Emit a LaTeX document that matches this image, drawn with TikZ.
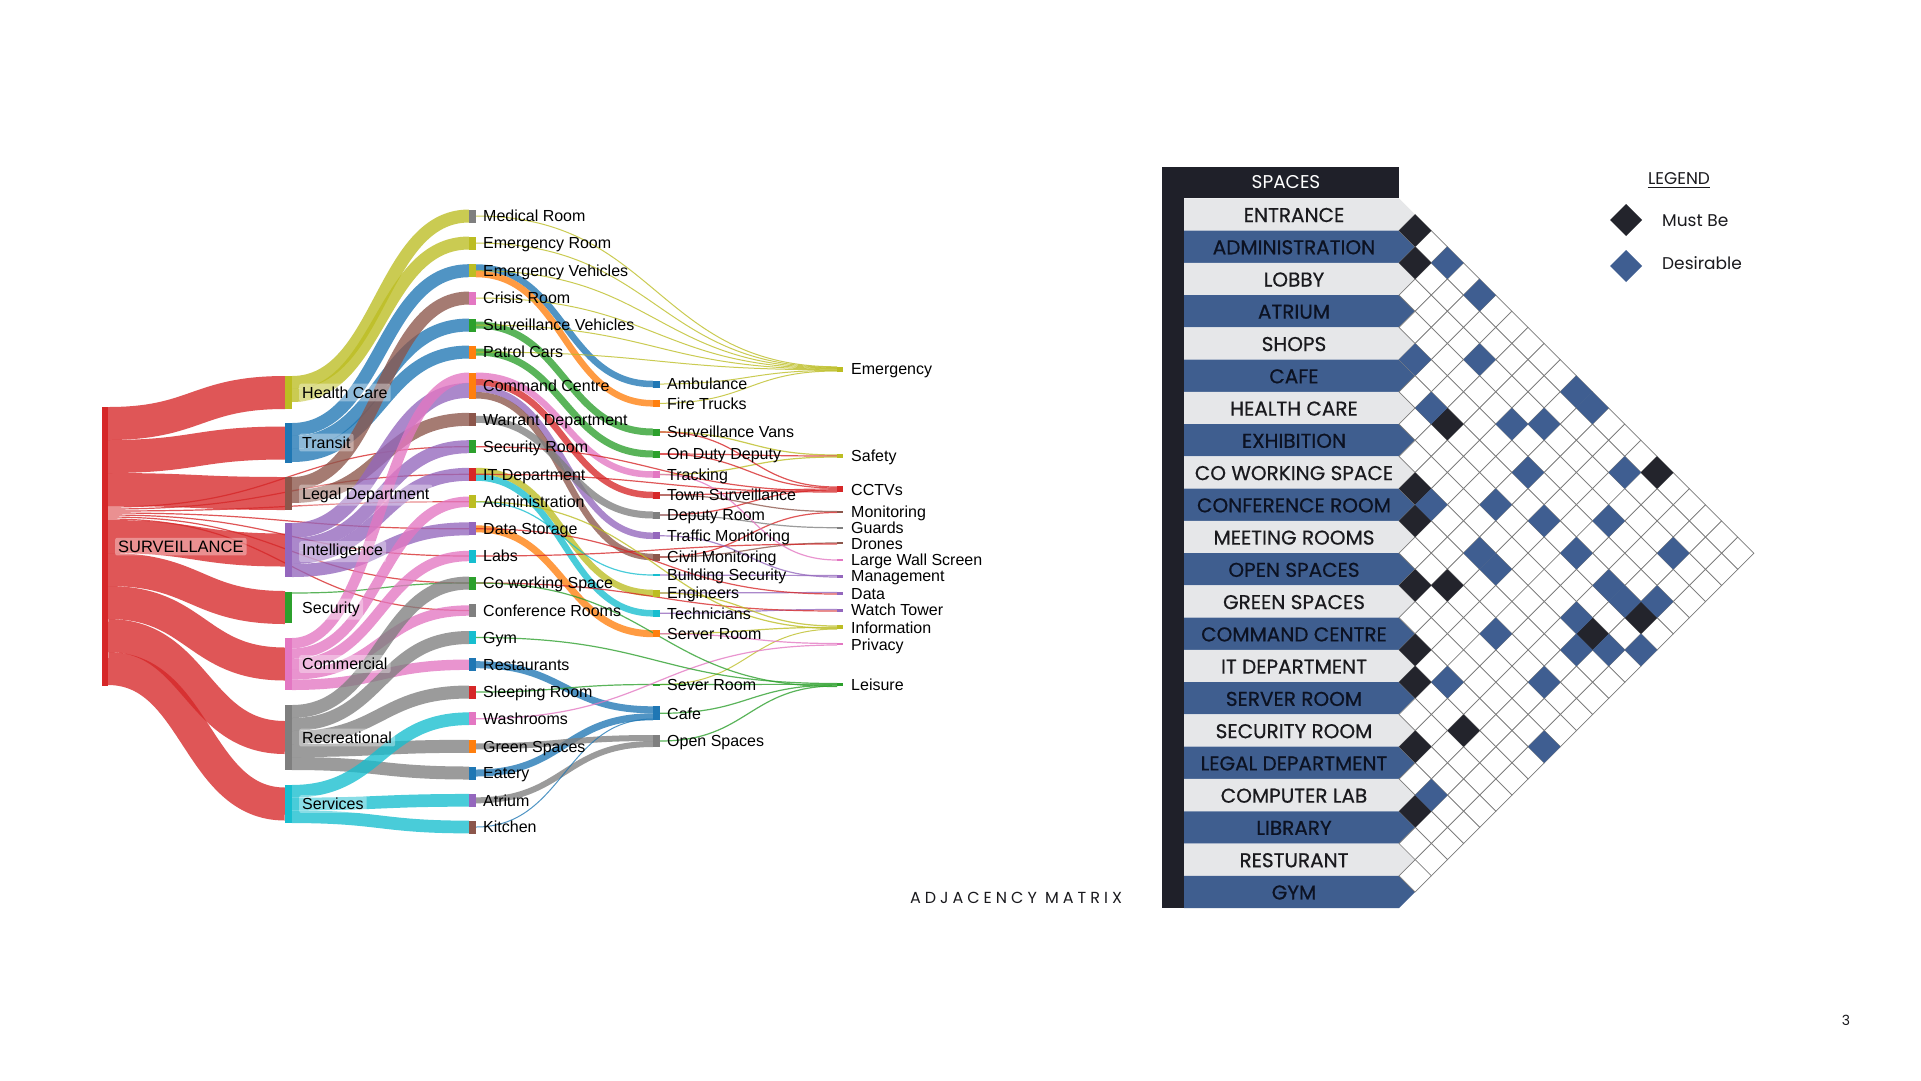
\documentclass[tikz,border=0pt]{standalone}
\usepackage{fontspec}
\setmainfont{Liberation Sans}
\newfontfamily\geofont{Poppins}
\usetikzlibrary{calc}
\definecolor{cBlue}{HTML}{1F77B4}
\definecolor{cOrange}{HTML}{FF7F0E}
\definecolor{cGreen}{HTML}{2CA02C}
\definecolor{cRed}{HTML}{D62728}
\definecolor{cPurple}{HTML}{9467BD}
\definecolor{cBrown}{HTML}{8C564B}
\definecolor{cPink}{HTML}{E377C2}
\definecolor{cGrey}{HTML}{7F7F7F}
\definecolor{cOlive}{HTML}{BCBD22}
\definecolor{cCyan}{HTML}{17BECF}
\definecolor{mxDark}{HTML}{1F2029}
\definecolor{mxBlack}{HTML}{23242C}
\definecolor{mxBlue}{HTML}{3F5E8F}
\definecolor{mxCell}{HTML}{3F5E91}
\definecolor{mxLight}{HTML}{E6E7E9}
\definecolor{mxNavy}{HTML}{0C1222}
\definecolor{mxText}{HTML}{1A1A1E}
\definecolor{mxLine}{HTML}{7A7A7A}
\pgfdeclarelayer{bg}
\pgfdeclarelayer{links}
\pgfsetlayers{bg,links,main}

\newcommand\flow[6]{\draw[#1,line width=#2pt,draw opacity=0.78] let \p1=(#3.east),\p2=(#5.west) in (\x1,-#4pt) .. controls ({0.5*\x1+0.5*\x2},-#4pt) and ({0.5*\x1+0.5*\x2},-#6pt) .. (\x2,-#6pt);}
\newcommand\cone[4]{\node[barnode,fill=#3,minimum height=#4pt] (#1) at (288.5,#2) {};}
\newcommand\ctwo[4]{\node[barnode,fill=#3,minimum height=13pt] (#1) at (472.5,#2) {};
  \node[lbl] (#1-l) at (483,#2+5.7) {#4};}
\newcommand\cthree[5]{\node[barnode,fill=#3,minimum height=#4pt] (#1) at (656.5,#2) {};
  \node[lbl] (#1-l) at (667,#2+5.7) {#5};}
\newcommand\cfour[5]{\node[barnode,fill=#3,minimum height=#4pt,minimum width=6pt] (#1) at (840,#2) {};
  \node[lbl] (#1-l) at (851,#2+5.7) {#5};}
\newcommand\mcell[3]{\fill[#3] ({1415.13+(#2-#1-1)*16.13-16.13},{214.43+(#1+#2)*16.13}) -- ++(16.13,-16.13) -- ++(16.13,16.13) -- ++(-16.13,16.13) -- cycle;}
\newcommand\mxrow[4]{% index, label, fill, text colour
  \fill[#3] (1184,{198.3+#1*32.26}) -- (1399,{198.3+#1*32.26}) -- (1415.13,{214.43+#1*32.26}) -- (1399,{230.56+#1*32.26}) -- (1184,{230.56+#1*32.26}) -- cycle;
  \node[rowtext] (row#1) at (1294,{215+#1*32.26}) {\color{#4}#2};}

\begin{document}
\begin{tikzpicture}[x=1pt,y=-1pt,
  barnode/.style={rectangle,inner sep=0pt,outer sep=0pt,minimum width=7pt,draw=none},
  lbl/.style={anchor=base west,inner sep=0pt,font=\fontsize{16}{19}\selectfont,text=black},
  lblone/.style={anchor=base west,inner sep=3pt,font=\fontsize{16}{19}\selectfont,text=black,
     fill=white,fill opacity=0.35,text opacity=1,rounded corners=2pt},
  rowtext/.style={font=\geofont\fontsize{20}{23}\selectfont\addfontfeature{FakeBold=0.6},inner sep=0pt},
  legtext/.style={anchor=west,font=\geofont\fontsize{17}{20}\selectfont,text=mxText,inner sep=0pt}]
\useasboundingbox (0,0) rectangle (1921,1080);
\begin{pgfonlayer}{bg}
\fill[white] (0,0) rectangle (1921,1080);
\end{pgfonlayer}

% ---------------- Sankey nodes ----------------
\node[barnode,fill=cRed,minimum width=6pt,minimum height=279pt] (S) at (105,546.5) {};
\node[lblone,font=\fontsize{16.5}{19}\selectfont] (S-l) at (115,552.3) {SURVEILLANCE};

\cone{HC}{392.5}{cOlive}{33}
\cone{TR}{443}{cBlue}{40}
\cone{LD}{493.5}{cBrown}{33}
\cone{IN}{550}{cPurple}{54}
\cone{SE}{607.5}{cGreen}{31}
\cone{CO}{664}{cPink}{52}
\cone{RE}{737.5}{cGrey}{65}
\cone{SV}{804}{cCyan}{38}
\node[lblone] (HC-l) at (299,398.3) {Health Care};
\node[lblone] (TR-l) at (299,448.3) {Transit};
\node[lblone] (LD-l) at (299,499.3) {Legal Department};
\node[lblone] (IN-l) at (299,555.8) {Intelligence};
\node[lblone] (SE-l) at (299,613.3) {Security};
\node[lblone] (CO-l) at (299,669.8) {Commercial};
\node[lblone] (RE-l) at (299,743.3) {Recreational};
\node[lblone] (SV-l) at (299,809.8) {Services};

\ctwo{MR}{216}{cGrey}{Medical Room}
\ctwo{ER}{243}{cOlive}{Emergency Room}
\ctwo{EV}{270.7}{cOlive}{Emergency Vehicles}
\ctwo{CR}{298}{cPink}{Crisis Room}
\ctwo{SVH}{325}{cGreen}{Surveillance Vehicles}
\ctwo{PC}{352}{cOrange}{Patrol Cars}
\node[barnode,fill=cOrange,minimum height=26pt] (CC) at (472.5,385.5) {};
\node[lbl] (CC-l) at (483,391.2) {Command Centre};
\ctwo{WD}{419.3}{cBrown}{Warrant Department}
\ctwo{SR}{446.7}{cGreen}{Security Room}
\ctwo{IT}{474.3}{cRed}{IT Department}
\ctwo{AD}{501.7}{cOlive}{Administration}
\ctwo{DS}{528.8}{cPurple}{Data Storage}
\ctwo{LB}{556}{cCyan}{Labs}
\ctwo{CW}{583}{cGreen}{Co working Space}
\ctwo{CF}{610.5}{cGrey}{Conference Rooms}
\ctwo{GY}{637.5}{cCyan}{Gym}
\ctwo{RS}{664.7}{cBlue}{Restaurants}
\ctwo{SL}{692}{cRed}{Sleeping Room}
\ctwo{WR}{718.7}{cPink}{Washrooms}
\ctwo{GS}{746.3}{cOrange}{Green Spaces}
\ctwo{EA}{773}{cBlue}{Eatery}
\ctwo{AT}{800.3}{cPurple}{Atrium}
\ctwo{KI}{827}{cBrown}{Kitchen}

\cthree{AMB}{384}{cBlue}{7}{Ambulance}
\cthree{FT}{403.3}{cOrange}{7}{Fire Trucks}
\cthree{SVAN}{432}{cGreen}{7}{Surveillance Vans}
\cthree{ODD}{454}{cGreen}{7}{On Duty Deputy}
\cthree{TRK}{474.5}{cPink}{7}{Tracking}
\cthree{TS}{495}{cRed}{7}{Town Surveillance}
\cthree{DR}{515}{cGrey}{7}{Deputy Room}
\cthree{TM}{535.8}{cPurple}{7}{Traffic Monitoring}
\cthree{CM}{557}{cBrown}{7}{Civil Monitoring}
\cthree{BS}{575}{cCyan}{2}{Building Security}
\cthree{ENG}{593}{cOlive}{7}{Engineers}
\cthree{TEC}{613.3}{cCyan}{7}{Technicians}
\cthree{SRV}{633.7}{cOrange}{7}{Server Room}
\cthree{SEV}{684.5}{cGreen}{2}{Sever Room}
\cthree{CAFE}{713.3}{cBlue}{14}{Cafe}
\cthree{OS}{741}{cGrey}{12}{Open Spaces}

\cfour{EMG}{369}{cOlive}{5}{Emergency}
\cfour{SAF}{456}{cOlive}{4}{Safety}
\cfour{CCTV}{489.3}{cRed}{6}{CCTVs}
\cfour{MON}{512}{cBrown}{2}{Monitoring}
\cfour{GRD}{527.7}{cGrey}{2}{Guards}
\cfour{DRN}{543.3}{cBrown}{2}{Drones}
\cfour{LWS}{560}{cPink}{2}{Large Wall Screen}
\cfour{MGT}{576}{cPurple}{3}{Management}
\cfour{DAT}{593.3}{cPurple}{3}{Data}
\cfour{WT}{610}{cPurple}{3}{Watch Tower}
\cfour{INF}{627.3}{cOlive}{4}{Information}
\cfour{PRV}{644.3}{cPink}{2}{Privacy}
\cfour{LEI}{684.8}{cGreen}{3}{Leisure}

% ---------------- Sankey links ----------------
\begin{pgfonlayer}{links}
\flow{cRed}{33}{S}{423.5}{HC}{392.5}
\flow{cRed}{33}{S}{456.5}{TR}{443}
\flow{cRed}{33}{S}{489.5}{LD}{493.5}
\flow{cRed}{33}{S}{536.5}{IN}{550}
\flow{cRed}{33}{S}{569.5}{SE}{607.5}
\flow{cRed}{33}{S}{602.5}{CO}{664}
\flow{cRed}{33}{S}{635.5}{RE}{737.5}
\flow{cRed}{33}{S}{668.5}{SV}{804}
\flow{cRed}{1.2}{S}{507}{SR}{446.7}
\flow{cRed}{1.2}{S}{509}{IT}{474.3}
\flow{cRed}{1.2}{S}{511}{AD}{501.7}
\flow{cRed}{1.2}{S}{513}{DS}{528.8}
\flow{cRed}{1.2}{S}{515}{LB}{556}
\flow{cRed}{1.2}{S}{517}{CW}{583}
\flow{cRed}{1.2}{S}{519}{CF}{610.5}

\flow{cOlive}{13}{HC}{382.5}{MR}{216}
\flow{cOlive}{13}{HC}{395.5}{ER}{243}
\flow{cBlue}{13}{TR}{429.5}{EV}{270.7}
\flow{cBlue}{13}{TR}{442.5}{SVH}{325}
\flow{cBlue}{13}{TR}{455.5}{PC}{352}
\flow{cBrown}{13}{LD}{483.5}{CR}{298}
\flow{cBrown}{13}{LD}{496.5}{WD}{419.3}
\flow{cPurple}{15}{IN}{530.5}{CC}{390.4}
\flow{cPurple}{13}{IN}{544.5}{SR}{446.7}
\flow{cPurple}{13}{IN}{557.5}{IT}{474.3}
\flow{cPurple}{13}{IN}{570.5}{DS}{528.8}
\flow{cGreen}{1.2}{SE}{593}{CW}{583}
\flow{cPink}{10.4}{CO}{643.2}{CC}{377.7}
\flow{cPink}{10.4}{CO}{653.6}{AD}{501.7}
\flow{cPink}{10.4}{CO}{664}{LB}{556}
\flow{cPink}{10.4}{CO}{674.4}{CF}{610.5}
\flow{cPink}{10.4}{CO}{684.8}{RS}{664.7}
\flow{cGrey}{13}{RE}{711.5}{CW}{583}
\flow{cGrey}{13}{RE}{724.5}{GY}{637.5}
\flow{cGrey}{13}{RE}{737.5}{SL}{692}
\flow{cGrey}{13}{RE}{750.5}{GS}{746.3}
\flow{cGrey}{13}{RE}{763.5}{EA}{773}
\flow{cCyan}{12.7}{SV}{791.3}{WR}{718.7}
\flow{cCyan}{12.7}{SV}{804}{AT}{800.3}
\flow{cCyan}{12.7}{SV}{816.7}{KI}{827}

\flow{cBlue}{6.5}{EV}{267.5}{AMB}{384}
\flow{cOrange}{6.5}{EV}{274}{FT}{403.3}
\flow{cGreen}{7}{SVH}{325}{SVAN}{432}
\flow{cGreen}{7}{PC}{352}{ODD}{454}
\flow{cPink}{6.5}{CC}{375.75}{TRK}{474.5}
\flow{cRed}{6.5}{CC}{382.25}{TS}{495}
\flow{cPurple}{6.5}{CC}{388.75}{TM}{535.8}
\flow{cBrown}{6.5}{CC}{395.25}{CM}{557}
\flow{cGrey}{7}{WD}{419.3}{DR}{515}
\flow{cOlive}{6.5}{IT}{471}{ENG}{593}
\flow{cCyan}{6.5}{IT}{477.5}{TEC}{613.3}
\flow{cOrange}{7}{DS}{528.8}{SRV}{633.7}
\flow{cCyan}{1.2}{AD}{501.7}{BS}{575}
\flow{cBlue}{7}{RS}{664.7}{CAFE}{709.8}
\flow{cBlue}{7}{EA}{773}{CAFE}{716.8}
\flow{cGrey}{6}{GS}{746.3}{OS}{738}
\flow{cGrey}{6}{AT}{800.3}{OS}{744}
\flow{cBlue}{1}{KI}{827}{CAFE}{719}
\flow{cGreen}{1.2}{SL}{692}{SEV}{684.5}

\flow{cOlive}{1}{MR}{216}{EMG}{366.8}
\flow{cOlive}{1}{ER}{243}{EMG}{367.4}
\flow{cOlive}{1}{EV}{270.7}{EMG}{368}
\flow{cOlive}{1}{CR}{298}{EMG}{368.6}
\flow{cOlive}{1}{SVH}{325}{EMG}{369.2}
\flow{cOlive}{1}{PC}{352}{EMG}{369.8}
\flow{cOlive}{1}{AMB}{384}{EMG}{370.4}
\flow{cOlive}{1}{FT}{403.3}{EMG}{371}
\flow{cOlive}{1.2}{SVAN}{432}{SAF}{455}
\flow{cRed}{1.2}{ODD}{454}{SAF}{456}
\flow{cOlive}{1.2}{TRK}{474.5}{SAF}{457}
\flow{cRed}{1.2}{SVAN}{432}{CCTV}{487}
\flow{cRed}{1.2}{ODD}{454}{CCTV}{488}
\flow{cRed}{1.2}{TS}{495}{CCTV}{489}
\flow{cRed}{1.2}{DR}{515}{CCTV}{490}
\flow{cRed}{1.2}{SR}{446.7}{CCTV}{491}
\flow{cRed}{1.2}{IT}{474.3}{CCTV}{492}
\flow{cBrown}{1.2}{TS}{495}{MON}{511.5}
\flow{cRed}{1.2}{CM}{557}{MON}{512.5}
\flow{cGrey}{1.2}{DR}{515}{GRD}{527.7}
\flow{cBrown}{1.2}{CM}{557}{DRN}{543}
\flow{cRed}{1.2}{LB}{556}{DRN}{544}
\flow{cPink}{1.2}{TRK}{474.5}{LWS}{560}
\flow{cPurple}{1.2}{BS}{575}{MGT}{575.5}
\flow{cPurple}{1.2}{TM}{535.8}{MGT}{577}
\flow{cPurple}{1.2}{ENG}{593}{DAT}{592.5}
\flow{cRed}{1.2}{DS}{528.8}{DAT}{594}
\flow{cPurple}{1.2}{TEC}{613.3}{WT}{609.5}
\flow{cRed}{1.2}{CW}{583}{WT}{611}
\flow{cOlive}{1.2}{ENG}{593}{INF}{626}
\flow{cOlive}{1.2}{SRV}{633.7}{INF}{627.3}
\flow{cOlive}{1.2}{AD}{501.7}{INF}{628.5}
\flow{cOlive}{1}{SEV}{684.5}{INF}{629}
\flow{cPink}{1.2}{SRV}{633.7}{PRV}{643.5}
\flow{cPink}{1.2}{WR}{718.7}{PRV}{645}
\flow{cGreen}{1.2}{GY}{637.5}{LEI}{683.5}
\flow{cGreen}{1.2}{SEV}{684.5}{LEI}{684.3}
\flow{cGreen}{1.2}{CAFE}{713.3}{LEI}{685.1}
\flow{cGreen}{1.2}{OS}{741}{LEI}{685.9}
\flow{cGreen}{1.2}{CW}{583}{LEI}{686.5}
\end{pgfonlayer}

% ---------------- Adjacency matrix ----------------
\fill[mxDark] (1162,166.6) rectangle (1399,198.3);
\fill[mxDark] (1162,166.6) rectangle (1184,908);
\node[font=\geofont\fontsize{18.5}{21}\selectfont,text=white,inner sep=0pt] (hdr) at (1286,182.5) {SPACES};
\mxrow{0}{ENTRANCE}{mxLight}{mxText}
\mxrow{1}{ADMINISTRATION}{mxBlue}{mxNavy}
\mxrow{2}{LOBBY}{mxLight}{mxText}
\mxrow{3}{ATRIUM}{mxBlue}{mxNavy}
\mxrow{4}{SHOPS}{mxLight}{mxText}
\mxrow{5}{CAFE}{mxBlue}{mxNavy}
\mxrow{6}{HEALTH CARE}{mxLight}{mxText}
\mxrow{7}{EXHIBITION}{mxBlue}{mxNavy}
\mxrow{8}{CO WORKING SPACE}{mxLight}{mxText}
\mxrow{9}{CONFERENCE ROOM}{mxBlue}{mxNavy}
\mxrow{10}{MEETING ROOMS}{mxLight}{mxText}
\mxrow{11}{OPEN SPACES}{mxBlue}{mxNavy}
\mxrow{12}{GREEN SPACES}{mxLight}{mxText}
\mxrow{13}{COMMAND CENTRE}{mxBlue}{mxNavy}
\mxrow{14}{IT DEPARTMENT}{mxLight}{mxText}
\mxrow{15}{SERVER ROOM}{mxBlue}{mxNavy}
\mxrow{16}{SECURITY ROOM}{mxLight}{mxText}
\mxrow{17}{LEGAL DEPARTMENT}{mxBlue}{mxNavy}
\mxrow{18}{COMPUTER LAB}{mxLight}{mxText}
\mxrow{19}{LIBRARY}{mxBlue}{mxNavy}
\mxrow{20}{RESTURANT}{mxLight}{mxText}
\mxrow{21}{GYM}{mxBlue}{mxNavy}
\foreach \i in {0,...,20}{
  \pgfmathtruncatemacro\ja{\i+1}
  \foreach \j in {\ja,...,21}{
    \draw[mxLine,line width=0.7pt,fill=white] ({1415.13+(\j-\i-1)*16.13-16.13},{214.43+(\i+\j)*16.13}) -- ++(16.13,-16.13) -- ++(16.13,16.13) -- ++(-16.13,16.13) -- cycle;
  }
}
\foreach \a/\b in {0/1,1/2,5/8,0/16,8/9,9/10,11/12,10/13,7/19,5/20,13/14,14/15,14/18,16/17,18/19}{\mcell{\a}{\b}{mxBlack}}
\foreach \a/\b in {0/3,0/5,4/5,2/7,5/7,3/10,2/11,0/11,0/12,4/12,1/15,8/10,6/12,5/14,3/16,8/13,8/14,5/16,2/19,5/18,5/19,4/20,7/18,8/19,7/20,6/21,10/16,13/16,10/19,12/21,17/19}{\mcell{\a}{\b}{mxCell}}

% ---------------- Legend and captions ----------------
\node[font=\geofont\fontsize{17}{20}\selectfont,text=mxText,inner sep=0pt] (leg) at (1679,179) {LEGEND};
\draw[mxText,line width=0.9pt] ([yshift=-3pt]leg.base west) -- ([yshift=-3pt]leg.base east);
\fill[mxBlack] (1610,220) -- (1626,204) -- (1642,220) -- (1626,236) -- cycle;
\fill[mxCell] (1610,266) -- (1626,250) -- (1642,266) -- (1626,282) -- cycle;
\node[legtext] (must) at (1662,221) {Must Be};
\node[legtext] (desi) at (1662,263) {Desirable};
\node[font=\geofont\fontsize{16}{19}\selectfont\addfontfeature{LetterSpace=25},text=mxText,inner sep=0pt] (adj) at (1016,898) {ADJACENCY MATRIX};
\node[font=\geofont\fontsize{14}{17}\selectfont,text=mxText,inner sep=0pt] (pg) at (1846,1020) {3};
\end{tikzpicture}
\end{document}
